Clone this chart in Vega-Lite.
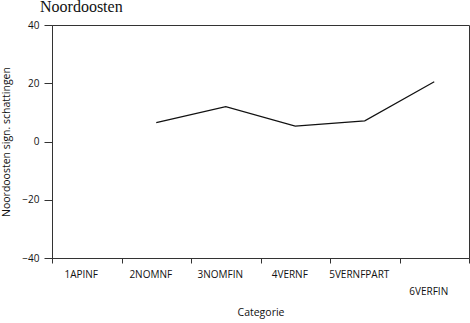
{
  "$schema": "https://vega.github.io/schema/vega-lite/v6.json",
  "autosize": "none",
  "width": 417,
  "height": 233,
  "padding": {"left": 52, "top": 25, "right": 1, "bottom": 65},
  "background": "white",
  "title": {
    "text": "Noordoosten",
    "anchor": "start",
    "frame": "group",
    "dx": -12,
    "offset": 5,
    "font": "Liberation Serif",
    "fontSize": 16,
    "fontWeight": "normal",
    "color": "#111111"
  },
  "config": {
    "view": {"stroke": "#333333", "strokeWidth": 1},
    "axis": {
      "grid": false,
      "domainColor": "#333333",
      "tickColor": "#333333",
      "labelFont": "Open Sans",
      "titleFont": "Open Sans",
      "labelColor": "#111111",
      "titleColor": "#111111",
      "labelFontSize": 10,
      "titleFontSize": 10.5,
      "titleFontWeight": "normal"
    }
  },
  "data": {
    "values": [
      {"categorie": "1APINF", "waarde": null},
      {"categorie": "2NOMNF", "waarde": 6.5},
      {"categorie": "3NOMFIN", "waarde": 12.0},
      {"categorie": "4VERNF", "waarde": 5.3},
      {"categorie": "5VERNFPART", "waarde": 7.1},
      {"categorie": "6VERFIN", "waarde": 20.5}
    ]
  },
  "mark": {"type": "line", "color": "#111111", "strokeWidth": 1.2},
  "encoding": {
    "x": {
      "field": "categorie",
      "type": "ordinal",
      "sort": null,
      "scale": {"type": "band", "paddingInner": 0, "paddingOuter": 0},
      "axis": {
        "title": "Categorie",
        "labelAngle": 0,
        "labelOffset": -6,
        "tickBand": "extent",
        "tickSize": 5,
        "labelPadding": 6,
        "labelOverlap": false,
        "labelLineHeight": 17,
        "labelExpr": "datum.value == '6VERFIN' ? ['', datum.label] : datum.label",
        "titleY": 49,
        "titleBaseline": "top"
      }
    },
    "y": {
      "field": "waarde",
      "type": "quantitative",
      "scale": {"domain": [-40, 40], "nice": false},
      "axis": {
        "title": "Noordoosten sign. schattingen",
        "values": [-40, -20, 0, 20, 40],
        "tickSize": 8,
        "labelPadding": 5,
        "titlePadding": 10
      }
    }
  }
}
